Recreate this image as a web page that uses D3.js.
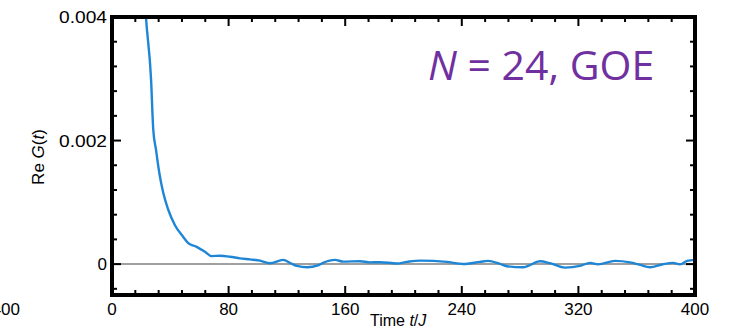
<!DOCTYPE html>
<html>
<head>
<meta charset="utf-8">
<script src="https://cdn.jsdelivr.net/npm/d3@7"></script>
<style>
  body { margin: 0; background: #fff; }
  svg { display: block; }
</style>
</head>
<body>
<div id="chart"></div>
<script>
// Re G(t) (t in units of 1/J)
const times = [22, 23.3, 26.8, 28.3, 30.2, 32.5, 35.2, 38.6, 43.2, 48.9, 52.3, 58.1, 63.8, 68.4,
  74.1, 81, 87.8, 94.7, 101.5, 108.4, 117.3, 123.5, 126.9, 133.8, 141.3, 144.8, 153, 158.5,
  170.2, 177, 183.9, 195.5, 202.4, 211.3, 229.8, 240.8, 252.5, 258, 266.2, 271, 282, 285.4,
  291.6, 293.7, 300.5, 310.8, 321.1, 328, 333.5, 345.1, 355.4, 362.3, 369.1, 378, 384.9,
  389.7, 394.5, 400];
const reG = [0.0045, 0.0040, 0.00299, 0.00218, 0.00185, 0.00147, 0.00115, 0.00088, 0.00063, 0.00044,
  0.00034, 0.00028, 0.00020, 0.00013,
  0.000135, 0.00012, 0.000093, 0.000076, 0.000057, 0.000015, 0.000068, 0.000003, -0.000029, -0.00005,
  -0.000021, 0.00002, 0.000068, 0.000041,
  0.000047, 0.000028, 0.000031, 0.000011, 0.000036, 0.000057, 0.000036, 0.000003, 0.000036, 0.000052,
  0.000003, -0.000034, -0.00005, -0.000029,
  0.000036, 0.000047, 0.000015, -0.000057, -0.000029, 0.00002, -0.000005, 0.000052, 0.000028,
  -0.000013, -0.00005, -0.000002, 0.00002,
  -0.000005, 0.000052, 0.000068];

const xMajor = [0, 80, 160, 240, 320, 400];
const yMajor = [0, 0.002, 0.004];
const yTickLabels = ['0', '0.002', '0.004'];

const width = 731, height = 329;
const margin = { top: 17, right: 36, bottom: 34, left: 112 };
const w = width - margin.left - margin.right;
const h = height - margin.top - margin.bottom;

const svg = d3.select('#chart').append('svg')
  .attr('width', width)
  .attr('height', height)
  .style('font-family', '"Liberation Sans", Arial, sans-serif');

const g = svg.append('g').attr('transform', `translate(${margin.left},${margin.top})`);

const x = d3.scaleLinear().domain([0, 400]).range([0, w]);
const y = d3.scaleLinear().domain([-0.0005, 0.004]).range([h, 0]);

svg.append('defs').append('clipPath').attr('id', 'clip')
  .append('rect').attr('width', w).attr('height', h);

// zero line
g.append('line')
  .attr('x1', 0).attr('x2', w)
  .attr('y1', y(0)).attr('y2', y(0))
  .attr('stroke', '#a0a0a0')
  .attr('stroke-width', 2);

// data
g.append('path')
  .datum(times.map((t, i) => ({ t, v: reG[i] })))
  .attr('clip-path', 'url(#clip)')
  .attr('fill', 'none')
  .attr('stroke', '#1f86d6')
  .attr('stroke-width', 2.4)
  .attr('d', d3.line()
    .x(d => x(d.t))
    .y(d => y(d.v))
    .curve(d3.curveMonotoneX));

// inward ticks on all four sides
const xMinor = d3.range(0, 401, 16).filter(v => v % 80 !== 0);
const yMinor = d3.range(-1, 11).filter(k => k % 5 !== 0).map(k => k * 0.0004);

const ticks = g.append('g').attr('stroke', '#000').attr('stroke-width', 2);
function xTicks(vals, len) {
  vals.forEach(v => {
    ticks.append('line').attr('x1', x(v)).attr('x2', x(v)).attr('y1', h).attr('y2', h - len);
    ticks.append('line').attr('x1', x(v)).attr('x2', x(v)).attr('y1', 0).attr('y2', len);
  });
}
function yTicks(vals, len) {
  vals.forEach(v => {
    ticks.append('line').attr('y1', y(v)).attr('y2', y(v)).attr('x1', 0).attr('x2', len);
    ticks.append('line').attr('y1', y(v)).attr('y2', y(v)).attr('x1', w).attr('x2', w - len);
  });
}
xTicks(xMinor, 5);
xTicks(xMajor, 9);
yTicks(yMinor, 5);
yTicks(yMajor, 9);

// frame
g.append('rect')
  .attr('width', w).attr('height', h)
  .attr('fill', 'none')
  .attr('stroke', '#000')
  .attr('stroke-width', 4);

// tick labels
g.selectAll('.xl').data(xMajor).join('text')
  .attr('x', d => x(d)).attr('y', h + 20)
  .attr('text-anchor', 'middle')
  .attr('font-size', 17)
  .text(d => d);

g.selectAll('.yl').data(yMajor).join('text')
  .attr('x', -5).attr('y', d => y(d) + 6)
  .attr('text-anchor', 'end')
  .attr('font-size', 17)
  .attr('textLength', (d, i) => i === 0 ? null : 48)
  .attr('lengthAdjust', 'spacingAndGlyphs')
  .text((d, i) => yTickLabels[i]);

// label of the neighbouring panel, cut by the left edge
svg.append('text')
  .attr('x', 20).attr('y', margin.top + h + 20)
  .attr('text-anchor', 'end')
  .attr('font-size', 17)
  .text('400');

// axis titles
const xt = svg.append('text')
  .attr('x', 370).attr('y', 326)
  .attr('font-size', 16);
xt.append('tspan').text('Time ');
xt.append('tspan').attr('font-style', 'italic').text('t');
xt.append('tspan').text('/');
xt.append('tspan').attr('font-style', 'italic').text('J');

const yt = svg.append('text')
  .attr('transform', 'translate(44,157) rotate(-90)')
  .attr('text-anchor', 'middle')
  .attr('font-size', 17);
yt.append('tspan').text('Re ');
yt.append('tspan').attr('font-style', 'italic').text('G');
yt.append('tspan').text('(');
yt.append('tspan').attr('font-style', 'italic').text('t');
yt.append('tspan').text(')');

// annotation
const ann = svg.append('text')
  .attr('x', 428).attr('y', 80)
  .attr('fill', '#7030a0')
  .attr('font-size', 41)
  .style('font-family', '"Open Sans", "Noto Sans", sans-serif');
ann.append('tspan').attr('font-style', 'italic').text('N');
ann.append('tspan').text(' = 24, GOE');
</script>
</body>
</html>
